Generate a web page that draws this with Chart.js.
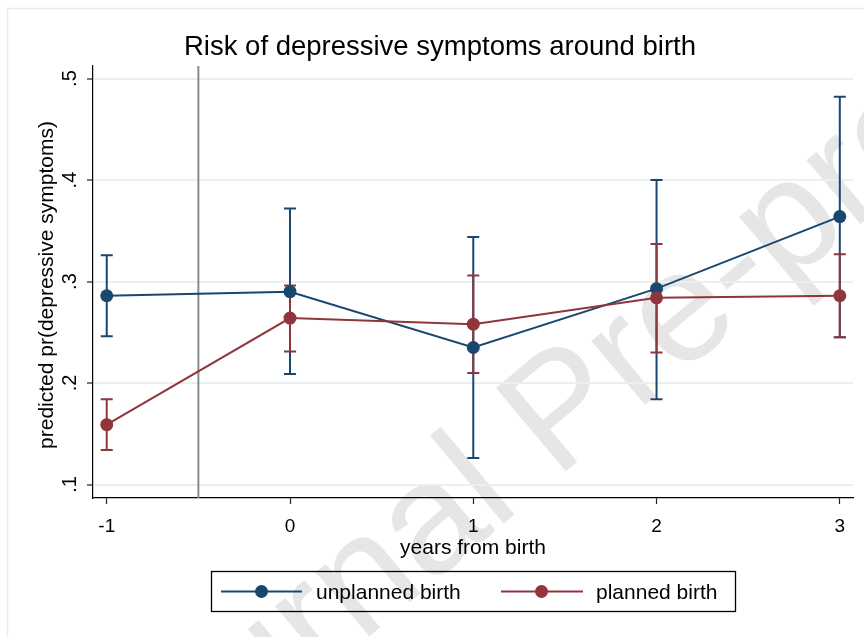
<!DOCTYPE html>
<html>
<head>
<meta charset="utf-8">
<title>Risk of depressive symptoms around birth</title>
<script src="https://cdn.jsdelivr.net/npm/chart.js@4.4.1/dist/chart.umd.min.js"></script>
<style>
  html, body { margin: 0; padding: 0; background: #fff; }
  #wrap { width: 864px; height: 637px; }
</style>
</head>
<body>
<div id="wrap"><canvas id="myChart" width="864" height="637"></canvas></div>
<script>
// values
const years = [-1, 0, 1, 2, 3];

const unplanned   = [0.286, 0.290, 0.235, 0.293, 0.364];
const unplannedLo = [0.246, 0.209, 0.126, 0.184, 0.245];
const unplannedHi = [0.326, 0.372, 0.344, 0.400, 0.482];

const planned   = [0.159, 0.264, 0.258, 0.284, 0.286];
const plannedLo = [0.134, 0.231, 0.210, 0.230, 0.245];
const plannedHi = [0.184, 0.296, 0.306, 0.337, 0.327];

const seriesNames = ['unplanned birth', 'planned birth'];
const seriesColors = ['#1a476f', '#90353b'];

const xTicks = [-1, 0, 1, 2, 3];
const yTicks = [0.1, 0.2, 0.3, 0.4, 0.5];
const yTickLabels = ['.1', '.2', '.3', '.4', '.5'];
const birthLine = -0.5;

const FONT = '"Liberation Sans", Arial, sans-serif';

function pts(ys) {
  return years.map((x, i) => ({ x: x, y: ys[i] }));
}

// draw the confidence intervals as capped bars
function drawCaps(chart, lo, hi, color) {
  const ctx = chart.ctx;
  const xs = chart.scales.x, ys = chart.scales.y;
  ctx.save();
  ctx.strokeStyle = color;
  ctx.lineWidth = 2;
  for (let i = 0; i < years.length; i++) {
    const px = xs.getPixelForValue(years[i]);
    const p1 = ys.getPixelForValue(lo[i]);
    const p2 = ys.getPixelForValue(hi[i]);
    ctx.beginPath();
    ctx.moveTo(px, p1); ctx.lineTo(px, p2);
    ctx.moveTo(px - 6, p1); ctx.lineTo(px + 6, p1);
    ctx.moveTo(px - 6, p2); ctx.lineTo(px + 6, p2);
    ctx.stroke();
  }
  ctx.restore();
}

const decor = {
  id: 'decor',
  beforeDraw(chart) {
    const ctx = chart.ctx;
    ctx.save();
    ctx.fillStyle = '#fff';
    ctx.fillRect(0, 0, chart.width, chart.height);
    // outer graph frame
    ctx.strokeStyle = '#e6edef';
    ctx.lineWidth = 1.5;
    ctx.beginPath();
    ctx.moveTo(7.5, chart.height); ctx.lineTo(7.5, 8.5); ctx.lineTo(chart.width, 8.5);
    ctx.stroke();
    // watermark
    ctx.translate(565, 415);
    ctx.rotate(-40 * Math.PI / 180);
    ctx.fillStyle = '#e6e6e6';
    ctx.font = '158px ' + FONT;
    ctx.textAlign = 'center';
    ctx.textBaseline = 'middle';
    ctx.fillText('Journal Pre-proof', 0, 0);
    ctx.restore();
  },
  beforeDatasetsDraw(chart) {
    const ctx = chart.ctx;
    const a = chart.chartArea;
    const px = chart.scales.x.getPixelForValue(birthLine);
    ctx.save();
    ctx.strokeStyle = '#8a8a8a';
    ctx.lineWidth = 2;
    ctx.beginPath();
    ctx.moveTo(px, a.top); ctx.lineTo(px, a.bottom);
    ctx.stroke();
    ctx.restore();
    drawCaps(chart, unplannedLo, unplannedHi, seriesColors[0]);
    drawCaps(chart, plannedLo, plannedHi, seriesColors[1]);
  },
  afterDraw(chart) {
    const ctx = chart.ctx;
    const a = chart.chartArea;
    ctx.save();
    ctx.fillStyle = '#000';

    // title
    ctx.font = '27.5px ' + FONT;
    ctx.textAlign = 'center';
    ctx.textBaseline = 'alphabetic';
    ctx.fillText('Risk of depressive symptoms around birth', 440, 55);

    // x axis title
    ctx.font = '21px ' + FONT;
    ctx.fillText('years from birth', (a.left + a.right) / 2, 554);

    // y tick labels, rotated
    ctx.font = '20px ' + FONT;
    yTicks.forEach((v, i) => {
      const py = chart.scales.y.getPixelForValue(v);
      ctx.save();
      ctx.translate(76, py);
      ctx.rotate(-Math.PI / 2);
      ctx.textAlign = 'center';
      ctx.fillText(yTickLabels[i], 0, 0);
      ctx.restore();
    });

    // y axis title
    ctx.save();
    ctx.font = '21px ' + FONT;
    ctx.translate(53, (a.top + a.bottom) / 2 + 3);
    ctx.rotate(-Math.PI / 2);
    ctx.textAlign = 'center';
    ctx.fillText('predicted pr(depressive symptoms)', 0, 0);
    ctx.restore();

    // legend
    ctx.strokeStyle = '#000';
    ctx.lineWidth = 1.3;
    ctx.strokeRect(211.5, 571.5, 524, 40);
    const items = [
      { x0: 221, x1: 302, dot: 261.5, tx: 316 },
      { x0: 501, x1: 583, dot: 541.5, tx: 596 }
    ];
    ctx.font = '21px ' + FONT;
    ctx.textAlign = 'left';
    items.forEach((it, i) => {
      ctx.strokeStyle = seriesColors[i];
      ctx.fillStyle = seriesColors[i];
      ctx.lineWidth = 2;
      ctx.beginPath();
      ctx.moveTo(it.x0, 591.5); ctx.lineTo(it.x1, 591.5);
      ctx.stroke();
      ctx.beginPath();
      ctx.arc(it.dot, 591.5, 6.5, 0, Math.PI * 2);
      ctx.fill();
      ctx.fillStyle = '#000';
      ctx.fillText(seriesNames[i], it.tx, 599);
    });
    ctx.restore();
  }
};

const ctx = document.getElementById('myChart').getContext('2d');
const chart = new Chart(ctx, {
  type: 'line',
  data: {
    datasets: [
      {
        label: seriesNames[0],
        data: pts(unplanned),
        borderColor: seriesColors[0],
        backgroundColor: seriesColors[0],
        borderWidth: 2,
        pointRadius: 6.5,
        pointBorderWidth: 0,
        order: 1
      },
      {
        label: seriesNames[1],
        data: pts(planned),
        borderColor: seriesColors[1],
        backgroundColor: seriesColors[1],
        borderWidth: 2,
        pointRadius: 6.5,
        pointBorderWidth: 0,
        order: 0
      }
    ]
  },
  options: {
    responsive: false,
    animation: false,
    devicePixelRatio: 1,
    layout: { padding: { top: 66, right: 11, bottom: 0, left: 0 } },
    plugins: {
      legend: { display: false },
      title: { display: false },
      tooltip: { enabled: false }
    },
    scales: {
      x: {
        type: 'linear',
        min: -1.075,
        max: 3.072,
        afterBuildTicks: s => { s.ticks = xTicks.map(v => ({ value: v })); },
        afterFit: s => { s.height = 139; },
        ticks: {
          color: '#000',
          font: { family: FONT, size: 19 },
          padding: 11,
          maxRotation: 0,
          callback: v => String(v)
        },
        grid: { drawOnChartArea: false, drawTicks: true, tickLength: 6, tickColor: '#222', tickWidth: 1.2 },
        border: { color: '#000', width: 1.2 }
      },
      y: {
        type: 'linear',
        min: 0.0867,
        max: 0.5124,
        afterBuildTicks: s => { s.ticks = yTicks.map(v => ({ value: v })); },
        afterFit: s => { s.width = 93; },
        ticks: { display: false },
        grid: { color: '#eaf0f1', lineWidth: 2, drawTicks: true, tickLength: 6, tickColor: '#222', tickWidth: 1.2 },
        border: { color: '#000', width: 1.2 }
      }
    }
  },
  plugins: [decor]
});
</script>
</body>
</html>
